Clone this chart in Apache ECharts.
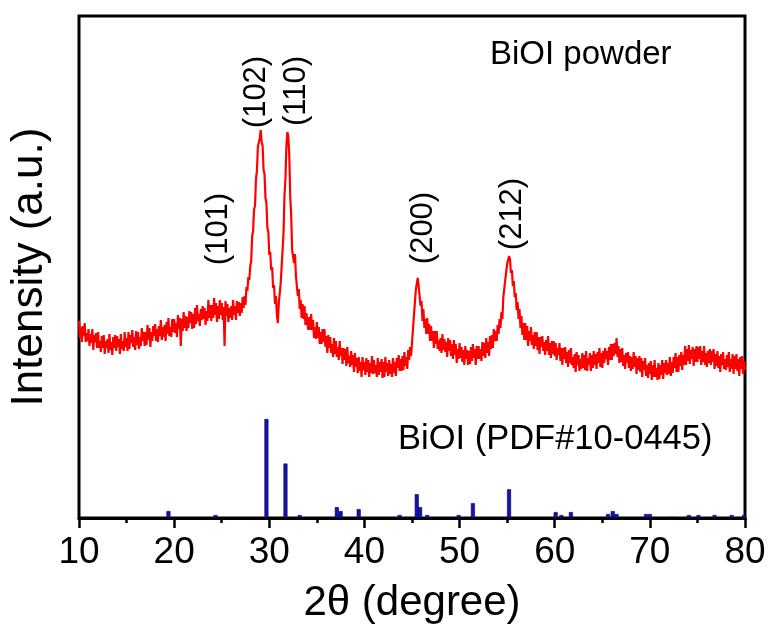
<!DOCTYPE html>
<html>
<head>
<meta charset="utf-8">
<script src="https://cdn.jsdelivr.net/npm/echarts@6/dist/echarts.min.js"></script>
<style>
  html, body { margin: 0; padding: 0; background: #fff; }
  #chart { width: 772px; height: 632px; }
</style>
</head>
<body>
<div id="chart"></div>
<script>
// Measured XRD scan of BiOI powder: 2θ from 10° to 80° in 0.1° steps (a.u.)
const scanStart = 10;
const scanStep = 0.1;
const intensity = [
  197,180,191,176,192,182,195,176,185,177,
  189,172,184,175,189,168,183,176,185,170,
  186,170,177,166,182,170,183,164,177,170,
  179,165,184,168,176,163,181,170,183,167,
  182,171,179,164,184,169,177,167,186,171,
  180,167,186,169,183,175,188,171,181,168,
  187,173,186,169,181,172,190,177,186,172,
  186,173,193,178,190,171,186,177,192,182,
  194,177,189,176,192,182,198,178,191,181,
  193,177,196,184,200,182,191,181,199,186,
  199,185,195,181,203,189,200,172,199,187,
  206,190,202,187,201,190,207,195,206,189,
  204,190,210,194,213,197,204,192,209,198,
  212,199,210,193,207,197,218,200,213,197,
  213,200,220,203,215,196,212,199,218,203,
  215,198,211,172,217,202,214,196,210,200,
  212,198,218,203,212,198,217,205,216,202,
  215,205,221,210,222,213,231,227,241,238,
  252,257,282,287,309,312,339,347,371,372,
  380,388,376,372,348,344,320,315,290,286,
  263,266,248,251,230,233,214,222,203,195,
  215,213,235,233,268,286,323,340,372,386,
  382,363,322,303,268,268,255,264,242,243,
  222,229,209,218,200,214,199,212,193,205,
  206,188,201,188,204,188,198,180,191,179,
  196,180,191,174,186,174,189,176,189,171,
  182,165,183,170,181,165,174,161,180,164,
  177,161,171,158,177,162,170,154,170,158,
  169,152,171,155,162,151,167,153,163,146,
  165,151,160,145,161,147,156,141,161,148,
  156,143,160,146,158,141,155,145,162,144,
  158,145,153,141,160,143,156,146,159,140,
  156,141,161,146,155,142,158,144,154,141,
  160,145,156,142,160,150,163,147,159,147,
  162,148,166,152,161,149,168,158,171,162,
  175,176,202,203,228,229,240,232,233,212,
  217,197,209,190,199,184,200,184,194,177,
  192,177,187,170,187,174,187,169,178,167,
  180,165,184,168,179,166,176,161,180,167,
  178,162,174,159,178,163,174,155,169,159,
  175,160,171,156,168,153,172,159,168,153,
  167,154,171,157,174,160,169,153,172,159,
  172,159,169,157,176,162,175,160,180,165,
  176,162,182,169,183,170,189,177,187,177,
  193,184,199,190,206,199,221,219,238,236,
  254,252,262,259,245,248,232,237,221,225,
  208,216,199,209,190,202,183,195,178,195,
  178,192,172,187,177,191,173,183,169,186,
  172,186,168,181,164,181,171,182,167,176,
  163,178,167,182,163,175,160,177,164,177,
  162,175,158,170,163,175,157,170,153,170,
  159,171,155,166,151,168,155,170,153,161,
  150,164,146,166,153,163,147,159,149,165,
  150,163,148,167,147,160,153,165,147,163,
  150,167,153,164,149,166,155,170,151,165,
  150,167,155,170,159,167,153,171,158,174,
  158,174,162,175,164,180,161,172,155,169,
  156,170,152,163,149,165,155,166,150,162,
  147,161,149,166,151,162,144,160,148,162,
  146,160,141,157,148,160,142,153,140,155,
  144,157,138,153,141,158,141,150,138,155,
  139,153,143,158,139,155,145,158,143,155,
  144,161,142,156,145,161,150,165,146,161,
  146,163,152,166,148,163,153,172,153,169,
  157,173,154,168,159,171,152,169,156,172,
  156,171,159,172,153,167,156,172,153,165,
  151,167,155,169,153,167,156,169,149,164,
  152,167,150,162,146,164,153,166,149,159,
  148,163,151,166,146,159,149,164,144,162,
  149,164,147,159,142,161,149,162,144,157,
  148
];

// Reference pattern BiOI (PDF#10-0445): line positions (2θ) and relative intensities
const refPositions = [19.4, 24.35, 29.7, 31.7, 33.2, 37.1, 37.5, 39.4, 43.7, 45.5, 45.85, 46.6,
  49.9, 51.4, 55.2, 60.1, 60.7, 61.7, 65.6, 66.1, 66.5, 69.6, 70.0, 72.3, 74.1, 75.1, 76.8, 78.6, 79.9];
const refIntensities = [7, 3, 100, 55, 3, 11, 7, 9, 3, 24, 11, 3,
  3, 15, 29, 6, 3, 6, 4, 7, 4, 4, 4, 1, 3, 3, 3, 3, 3];

// Miller-index annotations: 2θ of the label and the intensity level it sits at
const peakLabels = ['(101)', '(102)', '(110)', '(200)', '(212)'];
const peakLabelTheta = [24.7, 28.7, 32.9, 46.2, 55.6];
const peakLabelLevel = [289, 426, 427, 290, 304];

// X axis range and tick step (degrees)
const xMin = 10, xMax = 80, xStep = 10;

const FONT = '"Liberation Sans", Arial, sans-serif';

const scanData = intensity.map((v, i) => [+(scanStart + i * scanStep).toFixed(1), v]);
const refData = refPositions.map((p, i) => [p, refIntensities[i]]);
const labelData = peakLabels.map((t, i) => ({ name: t, value: [peakLabelTheta[i], peakLabelLevel[i]] }));

const chart = echarts.init(document.getElementById('chart'), null, { renderer: 'canvas' });
chart.setOption({
  animation: false,
  backgroundColor: '#fff',
  grid: {
    left: 79, right: 27, top: 16, bottom: 114,
    show: true, borderColor: '#000', borderWidth: 3, backgroundColor: 'transparent'
  },
  xAxis: {
    type: 'value', min: xMin, max: xMax, interval: xStep,
    name: '2θ (degree)', nameLocation: 'middle', nameGap: 64,
    nameTextStyle: { fontSize: 42, color: '#000', fontFamily: FONT },
    axisLine: { show: true, lineStyle: { color: '#000', width: 3 } },
    axisTick: { show: true, inside: false, length: 10, lineStyle: { color: '#000', width: 2.5 } },
    minorTick: { show: true, splitNumber: 2, length: 5, lineStyle: { color: '#000', width: 2.5 } },
    axisLabel: { fontSize: 37, color: '#000', fontFamily: FONT, margin: 16 },
    splitLine: { show: false }, minorSplitLine: { show: false }
  },
  yAxis: [
    {
      type: 'value', min: 0, max: 502,
      name: 'Intensity (a.u.)', nameLocation: 'middle', nameGap: 27,
      nameTextStyle: { fontSize: 44, color: '#000', fontFamily: FONT },
      axisLine: { show: false }, axisTick: { show: false }, axisLabel: { show: false },
      splitLine: { show: false }
    },
    {
      type: 'value', min: 0, max: 507, show: false,
      splitLine: { show: false }
    }
  ],
  graphic: [
    { type: 'text', left: 490, top: 38, style: { text: 'BiOI powder', font: '33px ' + FONT, fill: '#000' } },
    { type: 'text', left: 398, top: 422, style: { text: 'BiOI (PDF#10-0445)', font: '34.5px ' + FONT, fill: '#000' } }
  ],
  series: [
    {
      type: 'line', data: scanData, xAxisIndex: 0, yAxisIndex: 0,
      showSymbol: false, symbol: 'none', smooth: false, sampling: null,
      lineStyle: { color: '#ff0000', width: 2.2 }, z: 3
    },
    {
      type: 'bar', data: refData, xAxisIndex: 0, yAxisIndex: 1,
      barWidth: 4,
      itemStyle: { color: '#1414a8', borderColor: '#000055', borderWidth: 0.6 }, z: 2
    },
    {
      type: 'scatter', data: labelData, xAxisIndex: 0, yAxisIndex: 0,
      symbolSize: 0, itemStyle: { color: '#000', opacity: 1 },
      label: {
        show: true, formatter: '{b}', position: 'inside', rotate: 90,
        fontSize: 31, color: '#000', opacity: 1, fontFamily: FONT,
        textBorderWidth: 0
      },
      emphasis: { disabled: true },
      z: 4
    }
  ]
});
</script>
</body>
</html>
